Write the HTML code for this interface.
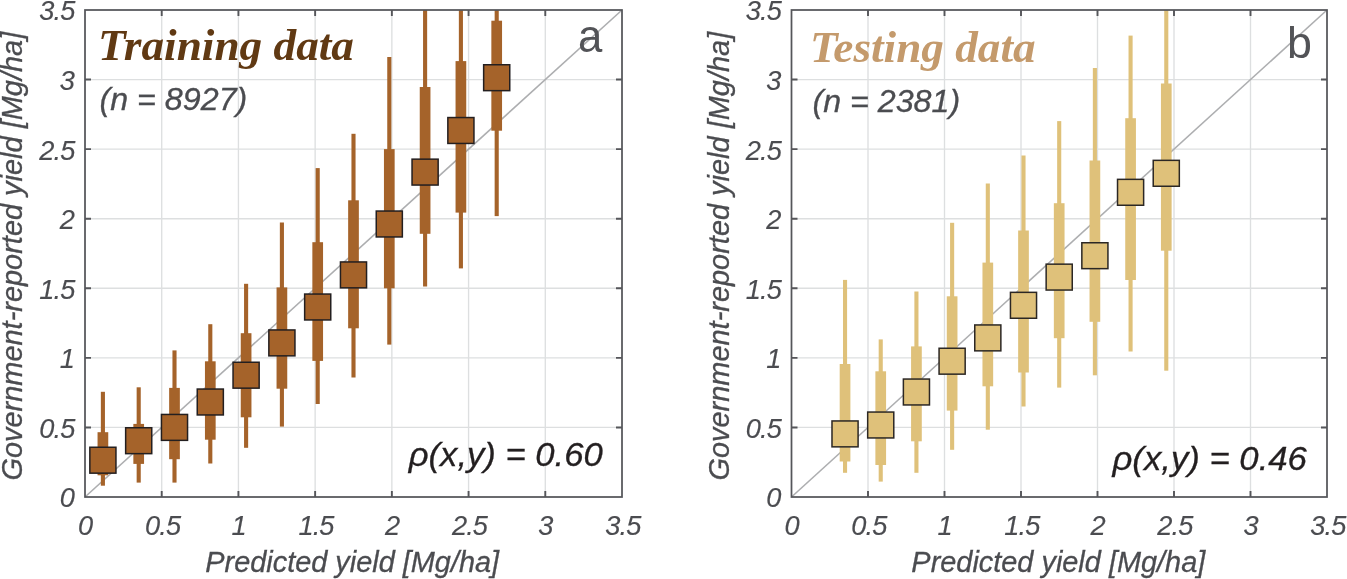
<!DOCTYPE html>
<html><head><meta charset="utf-8"><title>Predicted vs government-reported yield</title>
<style>
html,body{margin:0;padding:0;background:#fff;}
body{width:1347px;height:579px;overflow:hidden;}
svg{display:block;will-change:transform;}
text{font-family:"Liberation Sans",Arial,Helvetica,sans-serif;font-style:italic;fill:#4b4c50;stroke:#4b4c50;stroke-width:0.3px;}
.tk{font-size:27.2px;letter-spacing:-0.9px;stroke-width:0.15px;}
.lab{font-size:28.9px;}
.n{font-size:31px;}
.rho{font-size:33.5px;fill:#231f20;stroke:#231f20;}
.ttl{font-family:"Liberation Serif","Times New Roman",serif;font-weight:bold;font-style:italic;font-size:44px;stroke:none;}
.pn{font-style:normal;font-size:47px;fill:#525357;stroke:none;}
</style></head>
<body>
<svg width="1347" height="579" viewBox="0 0 1347 579">
<rect width="1347" height="579" fill="#fff"/>
<line x1="161.71" y1="10" x2="161.71" y2="497" stroke="#dddfe0" stroke-width="1.35"/>
<line x1="85" y1="427.43" x2="622" y2="427.43" stroke="#dddfe0" stroke-width="1.35"/>
<line x1="238.43" y1="10" x2="238.43" y2="497" stroke="#dddfe0" stroke-width="1.35"/>
<line x1="85" y1="357.86" x2="622" y2="357.86" stroke="#dddfe0" stroke-width="1.35"/>
<line x1="315.14" y1="10" x2="315.14" y2="497" stroke="#dddfe0" stroke-width="1.35"/>
<line x1="85" y1="288.29" x2="622" y2="288.29" stroke="#dddfe0" stroke-width="1.35"/>
<line x1="391.86" y1="10" x2="391.86" y2="497" stroke="#dddfe0" stroke-width="1.35"/>
<line x1="85" y1="218.71" x2="622" y2="218.71" stroke="#dddfe0" stroke-width="1.35"/>
<line x1="468.57" y1="10" x2="468.57" y2="497" stroke="#dddfe0" stroke-width="1.35"/>
<line x1="85" y1="149.14" x2="622" y2="149.14" stroke="#dddfe0" stroke-width="1.35"/>
<line x1="545.29" y1="10" x2="545.29" y2="497" stroke="#dddfe0" stroke-width="1.35"/>
<line x1="85" y1="79.57" x2="622" y2="79.57" stroke="#dddfe0" stroke-width="1.35"/>
<line x1="85" y1="497" x2="622" y2="10" stroke="#adaeb0" stroke-width="1.6"/>
<rect x="100.85" y="391.80" width="4.1" height="93.90" fill="#a5632a"/>
<rect x="97.55" y="432.20" width="10.7" height="43.10" fill="#a5632a"/>
<rect x="136.65" y="387.30" width="4.1" height="95.30" fill="#a5632a"/>
<rect x="133.35" y="423.90" width="10.7" height="40.00" fill="#a5632a"/>
<rect x="172.45" y="350.40" width="4.1" height="132.20" fill="#a5632a"/>
<rect x="169.15" y="387.90" width="10.7" height="71.30" fill="#a5632a"/>
<rect x="208.25" y="324.20" width="4.1" height="139.30" fill="#a5632a"/>
<rect x="204.95" y="361.30" width="10.7" height="78.40" fill="#a5632a"/>
<rect x="244.05" y="283.80" width="4.1" height="164.00" fill="#a5632a"/>
<rect x="240.75" y="333.20" width="10.7" height="84.10" fill="#a5632a"/>
<rect x="279.85" y="222.50" width="4.1" height="204.10" fill="#a5632a"/>
<rect x="276.55" y="287.40" width="10.7" height="101.30" fill="#a5632a"/>
<rect x="315.65" y="168.10" width="4.1" height="235.90" fill="#a5632a"/>
<rect x="312.35" y="242.20" width="10.7" height="118.70" fill="#a5632a"/>
<rect x="351.45" y="133.80" width="4.1" height="243.70" fill="#a5632a"/>
<rect x="348.15" y="200.30" width="10.7" height="128.00" fill="#a5632a"/>
<rect x="387.25" y="57.00" width="4.1" height="287.60" fill="#a5632a"/>
<rect x="383.95" y="149.10" width="10.7" height="139.20" fill="#a5632a"/>
<rect x="423.05" y="10.00" width="4.1" height="276.50" fill="#a5632a"/>
<rect x="419.75" y="87.00" width="10.7" height="146.80" fill="#a5632a"/>
<rect x="458.85" y="10.00" width="4.1" height="258.40" fill="#a5632a"/>
<rect x="455.55" y="61.10" width="10.7" height="151.50" fill="#a5632a"/>
<rect x="494.65" y="10.00" width="4.1" height="206.10" fill="#a5632a"/>
<rect x="491.35" y="20.70" width="10.7" height="110.00" fill="#a5632a"/>
<rect x="89.85" y="447.25" width="26.1" height="25.9" fill="#a5632a" stroke="#231f20" stroke-width="1.5"/>
<rect x="125.65" y="427.75" width="26.1" height="25.9" fill="#a5632a" stroke="#231f20" stroke-width="1.5"/>
<rect x="161.45" y="414.45" width="26.1" height="25.9" fill="#a5632a" stroke="#231f20" stroke-width="1.5"/>
<rect x="197.25" y="389.05" width="26.1" height="25.9" fill="#a5632a" stroke="#231f20" stroke-width="1.5"/>
<rect x="233.05" y="362.25" width="26.1" height="25.9" fill="#a5632a" stroke="#231f20" stroke-width="1.5"/>
<rect x="268.85" y="329.95" width="26.1" height="25.9" fill="#a5632a" stroke="#231f20" stroke-width="1.5"/>
<rect x="304.65" y="294.05" width="26.1" height="25.9" fill="#a5632a" stroke="#231f20" stroke-width="1.5"/>
<rect x="340.45" y="261.95" width="26.1" height="25.9" fill="#a5632a" stroke="#231f20" stroke-width="1.5"/>
<rect x="376.25" y="211.05" width="26.1" height="25.9" fill="#a5632a" stroke="#231f20" stroke-width="1.5"/>
<rect x="412.05" y="159.15" width="26.1" height="25.9" fill="#a5632a" stroke="#231f20" stroke-width="1.5"/>
<rect x="447.85" y="117.55" width="26.1" height="25.9" fill="#a5632a" stroke="#231f20" stroke-width="1.5"/>
<rect x="483.65" y="64.75" width="26.1" height="25.9" fill="#a5632a" stroke="#231f20" stroke-width="1.5"/>
<rect x="85" y="10" width="537" height="487" fill="none" stroke="#55565a" stroke-width="1.75"/>
<path d="M161.71 497v-6M161.71 10v6M85 427.43h6M622 427.43h-6" stroke="#55565a" stroke-width="1.9" fill="none"/>
<path d="M238.43 497v-6M238.43 10v6M85 357.86h6M622 357.86h-6" stroke="#55565a" stroke-width="1.9" fill="none"/>
<path d="M315.14 497v-6M315.14 10v6M85 288.29h6M622 288.29h-6" stroke="#55565a" stroke-width="1.9" fill="none"/>
<path d="M391.86 497v-6M391.86 10v6M85 218.71h6M622 218.71h-6" stroke="#55565a" stroke-width="1.9" fill="none"/>
<path d="M468.57 497v-6M468.57 10v6M85 149.14h6M622 149.14h-6" stroke="#55565a" stroke-width="1.9" fill="none"/>
<path d="M545.29 497v-6M545.29 10v6M85 79.57h6M622 79.57h-6" stroke="#55565a" stroke-width="1.9" fill="none"/>
<text x="85.20" y="534.5" text-anchor="middle" class="tk">0</text>
<text x="74.00" y="507.40" text-anchor="end" class="tk">0</text>
<text x="162.61" y="534.5" text-anchor="middle" class="tk">0.5</text>
<text x="74.40" y="437.83" text-anchor="end" class="tk">0.5</text>
<text x="238.63" y="534.5" text-anchor="middle" class="tk">1</text>
<text x="74.00" y="368.26" text-anchor="end" class="tk">1</text>
<text x="316.04" y="534.5" text-anchor="middle" class="tk">1.5</text>
<text x="74.40" y="298.69" text-anchor="end" class="tk">1.5</text>
<text x="392.06" y="534.5" text-anchor="middle" class="tk">2</text>
<text x="74.00" y="229.11" text-anchor="end" class="tk">2</text>
<text x="469.47" y="534.5" text-anchor="middle" class="tk">2.5</text>
<text x="74.40" y="159.54" text-anchor="end" class="tk">2.5</text>
<text x="545.49" y="534.5" text-anchor="middle" class="tk">3</text>
<text x="74.00" y="89.97" text-anchor="end" class="tk">3</text>
<text x="622.90" y="534.5" text-anchor="middle" class="tk">3.5</text>
<text x="74.40" y="20.40" text-anchor="end" class="tk">3.5</text>
<text class="ttl" transform="translate(97.9 59.7) scale(1.029 1)" style="fill:#603913">Training data</text>
<text class="n" transform="translate(99.5 109.6) scale(1.04 1)">(n = 8927)</text>
<text class="pn" transform="translate(577.9 51.5) scale(0.93 1)">a</text>
<text class="rho" transform="translate(408.7 466) scale(1.034 1)">ρ(x,y) = 0.60</text>
<text class="lab" x="352.2" y="572.2" text-anchor="middle">Predicted yield [Mg/ha]</text>
<text class="lab" transform="translate(22.2 256.2) rotate(-90)" style="font-size:28.95px" text-anchor="middle">Government-reported yield [Mg/ha]</text>
<line x1="868.00" y1="10" x2="868.00" y2="497" stroke="#dddfe0" stroke-width="1.35"/>
<line x1="791.5" y1="427.43" x2="1327" y2="427.43" stroke="#dddfe0" stroke-width="1.35"/>
<line x1="944.50" y1="10" x2="944.50" y2="497" stroke="#dddfe0" stroke-width="1.35"/>
<line x1="791.5" y1="357.86" x2="1327" y2="357.86" stroke="#dddfe0" stroke-width="1.35"/>
<line x1="1021.00" y1="10" x2="1021.00" y2="497" stroke="#dddfe0" stroke-width="1.35"/>
<line x1="791.5" y1="288.29" x2="1327" y2="288.29" stroke="#dddfe0" stroke-width="1.35"/>
<line x1="1097.50" y1="10" x2="1097.50" y2="497" stroke="#dddfe0" stroke-width="1.35"/>
<line x1="791.5" y1="218.71" x2="1327" y2="218.71" stroke="#dddfe0" stroke-width="1.35"/>
<line x1="1174.00" y1="10" x2="1174.00" y2="497" stroke="#dddfe0" stroke-width="1.35"/>
<line x1="791.5" y1="149.14" x2="1327" y2="149.14" stroke="#dddfe0" stroke-width="1.35"/>
<line x1="1250.50" y1="10" x2="1250.50" y2="497" stroke="#dddfe0" stroke-width="1.35"/>
<line x1="791.5" y1="79.57" x2="1327" y2="79.57" stroke="#dddfe0" stroke-width="1.35"/>
<line x1="791.5" y1="497" x2="1327" y2="10" stroke="#adaeb0" stroke-width="1.6"/>
<rect x="842.99" y="279.90" width="4.1" height="192.90" fill="#dfc17a"/>
<rect x="839.69" y="364.00" width="10.7" height="97.50" fill="#dfc17a"/>
<rect x="878.68" y="339.40" width="4.1" height="142.20" fill="#dfc17a"/>
<rect x="875.38" y="371.30" width="10.7" height="93.70" fill="#dfc17a"/>
<rect x="914.38" y="291.50" width="4.1" height="181.30" fill="#dfc17a"/>
<rect x="911.08" y="346.40" width="10.7" height="94.90" fill="#dfc17a"/>
<rect x="950.07" y="222.80" width="4.1" height="227.00" fill="#dfc17a"/>
<rect x="946.77" y="296.30" width="10.7" height="114.30" fill="#dfc17a"/>
<rect x="985.76" y="183.50" width="4.1" height="246.20" fill="#dfc17a"/>
<rect x="982.46" y="262.60" width="10.7" height="123.70" fill="#dfc17a"/>
<rect x="1021.45" y="155.50" width="4.1" height="251.00" fill="#dfc17a"/>
<rect x="1018.15" y="230.50" width="10.7" height="142.00" fill="#dfc17a"/>
<rect x="1057.15" y="121.10" width="4.1" height="266.50" fill="#dfc17a"/>
<rect x="1053.85" y="203.20" width="10.7" height="135.00" fill="#dfc17a"/>
<rect x="1092.84" y="68.00" width="4.1" height="307.30" fill="#dfc17a"/>
<rect x="1089.54" y="160.50" width="10.7" height="161.30" fill="#dfc17a"/>
<rect x="1128.53" y="35.60" width="4.1" height="315.90" fill="#dfc17a"/>
<rect x="1125.23" y="118.20" width="10.7" height="161.80" fill="#dfc17a"/>
<rect x="1164.23" y="10.00" width="4.1" height="360.70" fill="#dfc17a"/>
<rect x="1160.93" y="83.50" width="10.7" height="167.20" fill="#dfc17a"/>
<rect x="831.99" y="420.95" width="26.1" height="25.9" fill="#dfc17a" stroke="#2b2724" stroke-width="1.5"/>
<rect x="867.68" y="412.05" width="26.1" height="25.9" fill="#dfc17a" stroke="#2b2724" stroke-width="1.5"/>
<rect x="903.38" y="379.05" width="26.1" height="25.9" fill="#dfc17a" stroke="#2b2724" stroke-width="1.5"/>
<rect x="939.07" y="348.25" width="26.1" height="25.9" fill="#dfc17a" stroke="#2b2724" stroke-width="1.5"/>
<rect x="974.76" y="324.95" width="26.1" height="25.9" fill="#dfc17a" stroke="#2b2724" stroke-width="1.5"/>
<rect x="1010.45" y="292.35" width="26.1" height="25.9" fill="#dfc17a" stroke="#2b2724" stroke-width="1.5"/>
<rect x="1046.15" y="264.15" width="26.1" height="25.9" fill="#dfc17a" stroke="#2b2724" stroke-width="1.5"/>
<rect x="1081.84" y="242.75" width="26.1" height="25.9" fill="#dfc17a" stroke="#2b2724" stroke-width="1.5"/>
<rect x="1117.53" y="179.35" width="26.1" height="25.9" fill="#dfc17a" stroke="#2b2724" stroke-width="1.5"/>
<rect x="1153.23" y="160.35" width="26.1" height="25.9" fill="#dfc17a" stroke="#2b2724" stroke-width="1.5"/>
<rect x="791.5" y="10" width="535.5" height="487" fill="none" stroke="#55565a" stroke-width="1.75"/>
<path d="M868.00 497v-6M868.00 10v6M791.5 427.43h6M1327 427.43h-6" stroke="#55565a" stroke-width="1.9" fill="none"/>
<path d="M944.50 497v-6M944.50 10v6M791.5 357.86h6M1327 357.86h-6" stroke="#55565a" stroke-width="1.9" fill="none"/>
<path d="M1021.00 497v-6M1021.00 10v6M791.5 288.29h6M1327 288.29h-6" stroke="#55565a" stroke-width="1.9" fill="none"/>
<path d="M1097.50 497v-6M1097.50 10v6M791.5 218.71h6M1327 218.71h-6" stroke="#55565a" stroke-width="1.9" fill="none"/>
<path d="M1174.00 497v-6M1174.00 10v6M791.5 149.14h6M1327 149.14h-6" stroke="#55565a" stroke-width="1.9" fill="none"/>
<path d="M1250.50 497v-6M1250.50 10v6M791.5 79.57h6M1327 79.57h-6" stroke="#55565a" stroke-width="1.9" fill="none"/>
<text x="791.70" y="534.5" text-anchor="middle" class="tk">0</text>
<text x="780.50" y="507.40" text-anchor="end" class="tk">0</text>
<text x="868.90" y="534.5" text-anchor="middle" class="tk">0.5</text>
<text x="780.90" y="437.83" text-anchor="end" class="tk">0.5</text>
<text x="944.70" y="534.5" text-anchor="middle" class="tk">1</text>
<text x="780.50" y="368.26" text-anchor="end" class="tk">1</text>
<text x="1021.90" y="534.5" text-anchor="middle" class="tk">1.5</text>
<text x="780.90" y="298.69" text-anchor="end" class="tk">1.5</text>
<text x="1097.70" y="534.5" text-anchor="middle" class="tk">2</text>
<text x="780.50" y="229.11" text-anchor="end" class="tk">2</text>
<text x="1174.90" y="534.5" text-anchor="middle" class="tk">2.5</text>
<text x="780.90" y="159.54" text-anchor="end" class="tk">2.5</text>
<text x="1250.70" y="534.5" text-anchor="middle" class="tk">3</text>
<text x="780.50" y="89.97" text-anchor="end" class="tk">3</text>
<text x="1327.90" y="534.5" text-anchor="middle" class="tk">3.5</text>
<text x="780.90" y="20.40" text-anchor="end" class="tk">3.5</text>
<text class="ttl" transform="translate(809.9 61.8) scale(1.028 1)" style="fill:#c49a6c">Testing data</text>
<text class="n" transform="translate(812.4 111.7) scale(1.04 1)">(n = 2381)</text>
<text class="pn" x="1286.9" y="58.4" style="font-size:44.8px">b</text>
<text class="rho" transform="translate(1112.5 470) scale(1.036 1)">ρ(x,y) = 0.46</text>
<text class="lab" x="1058.3" y="572.2" text-anchor="middle">Predicted yield [Mg/ha]</text>
<text class="lab" transform="translate(728.5 256.2) rotate(-90)" style="font-size:28.95px" text-anchor="middle">Government-reported yield [Mg/ha]</text>
</svg>
</body></html>
